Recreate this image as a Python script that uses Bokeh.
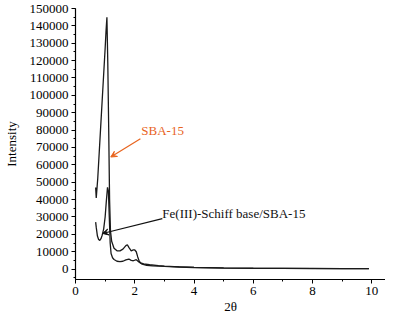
from bokeh.plotting import figure
from bokeh.models import Range1d, SingleIntervalTicker, BasicTickFormatter, Arrow, VeeHead
from bokeh.core.properties import value
from bokeh.embed import file_html
from bokeh.resources import INLINE

# SBA-15 pattern
sba_x = [0.68, 0.70, 0.75, 0.80, 0.85, 0.90, 0.95, 1.00, 1.03, 1.06, 1.09, 1.12, 1.15, 1.18, 1.22,
         1.30, 1.40, 1.50, 1.60, 1.70, 1.75, 1.80, 1.88, 1.95, 2.00, 2.05, 2.10, 2.15, 2.20, 2.30,
         2.50, 2.80, 3.00, 3.50, 4.00, 5.00, 6.00, 7.00, 8.00, 9.00, 9.90]
sba_y = [47000, 41000, 52000, 67000, 82000, 97000, 112000, 127000, 137000, 145000, 118000, 81000,
         40000, 22000, 16000, 12000, 10500, 10500, 11500, 13500, 14000, 12500, 10500, 11000, 11000,
         10000, 7000, 4500, 3500, 3000, 2500, 2000, 1700, 1300, 1000, 700, 500, 400, 350, 300, 300]

# Fe(III)-Schiff base/SBA-15 pattern
fe_x = [0.68, 0.70, 0.74, 0.78, 0.82, 0.86, 0.90, 0.95, 1.00, 1.04, 1.08, 1.11, 1.14, 1.17, 1.20,
        1.25, 1.30, 1.40, 1.50, 1.60, 1.70, 1.80, 1.88, 1.95, 2.05, 2.15, 2.25, 2.40, 2.60, 3.00,
        3.50, 4.00, 5.00, 6.00, 7.00, 8.00, 9.00, 9.90]
fe_y = [27000, 24000, 19000, 17000, 16500, 17500, 19500, 23000, 30000, 39000, 47000, 45000, 30000,
        15000, 9000, 6500, 5500, 4500, 4300, 4500, 5300, 5800, 5000, 4800, 5400, 4000, 2800, 2200,
        1800, 1500, 1200, 900, 600, 450, 350, 300, 250, 250]

labels = ["SBA-15", "Fe(III)-Schiff base/SBA-15"]
label_x = [2.22, 2.93]
label_y = [80000, 32000]
arrow_start_x = [2.19, 2.93]
arrow_start_y = [75000, 29000]
arrow_end_x = [1.19, 0.91]
arrow_end_y = [64500, 20500]
label_colors = ["#E8641E", "#111111"]

FONT = "'Liberation Serif', 'Times New Roman', Times, serif"

p = figure(width=385, height=316, output_backend="svg", toolbar_location=None,
           x_range=Range1d(0, 10.46), y_range=Range1d(-6000, 150000),
           min_border_left=71, min_border_right=0, min_border_top=8, min_border_bottom=37)
p.outline_line_color = None
p.grid.visible = False
p.background_fill_color = "white"

p.line(sba_x, sba_y, line_color="#1a1a1a", line_width=1.3)
p.line(fe_x, fe_y, line_color="#1a1a1a", line_width=1.3)

for i in range(2):
    p.add_layout(Arrow(end=VeeHead(size=6, line_color=label_colors[i], fill_color=label_colors[i], line_width=1),
                       x_start=arrow_start_x[i], y_start=arrow_start_y[i],
                       x_end=arrow_end_x[i], y_end=arrow_end_y[i],
                       line_color=label_colors[i], line_width=1.2))

p.text(x=label_x, y=label_y, text=labels, text_color=label_colors,
       text_font=value(FONT), text_font_size="13px", text_baseline="middle", text_align="left")

p.xaxis.ticker = SingleIntervalTicker(interval=2, num_minor_ticks=2)
p.yaxis.ticker = SingleIntervalTicker(interval=10000, num_minor_ticks=2)
p.yaxis.formatter = BasicTickFormatter(use_scientific=False)

for ax in (p.xaxis, p.yaxis):
    ax.axis_line_color = "black"
    ax.axis_line_width = 1.2
    ax.major_tick_line_color = "black"
    ax.minor_tick_line_color = "black"
    ax.major_tick_out = 4
    ax.major_tick_in = 0
    ax.minor_tick_out = 2
    ax.minor_tick_in = 0
    ax.major_label_text_font = FONT
    ax.major_label_text_font_size = "13px"
    ax.major_label_text_color = "black"
    ax.axis_label_text_font = FONT
    ax.axis_label_text_font_size = "13px"
    ax.axis_label_text_font_style = "normal"
    ax.axis_label_text_color = "black"

p.xaxis.axis_label = "2θ"
p.yaxis.axis_label = "Intensity"
p.xaxis.major_label_standoff = 3
p.yaxis.major_label_standoff = 3
p.xaxis.axis_label_standoff = 1
p.yaxis.axis_label_standoff = 8

open("out.html", "w").write(file_html(p, INLINE))
